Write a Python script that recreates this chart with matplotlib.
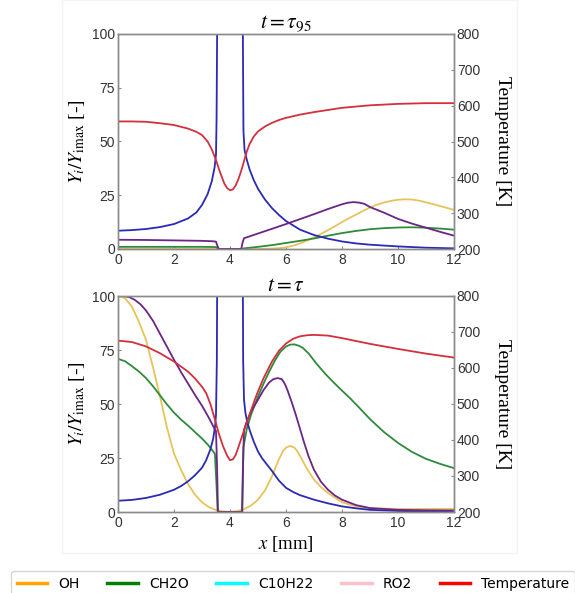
import matplotlib
matplotlib.use("Agg")
import matplotlib.pyplot as plt
from matplotlib.lines import Line2D
from matplotlib.patches import Rectangle

plt.rcParams['font.family'] = ['Liberation Sans', 'DejaVu Sans']
plt.rcParams['mathtext.fontset'] = 'stix'

# ---------------- data ----------------
species = ["OH", "CH2O", "C10H22", "RO2", "Temperature"]
legend_colors = ["orange", "green", "cyan", "pink", "red"]
line_colors = ["#E8C35A", "#2F8A3A", "#2A2AB5", "#6A2585", "#D2303C"]

x_ticks = [0, 2, 4, 6, 8, 10, 12]
y_ticks = [0, 25, 50, 75, 100]
t_ticks = [200, 300, 400, 500, 600, 700, 800]

# ---- panel 1 : t = tau_95 ----
p1_oh_x = [0, 3.5, 4.5, 5, 5.5, 5.75, 6, 6.25, 6.5, 6.75, 7, 7.25, 7.5, 7.75, 8, 8.25, 8.5, 8.75, 9, 9.25, 9.5, 9.75, 10, 10.25, 10.5, 10.75, 11, 11.5, 12]
p1_oh_y = [0.0, 0.0, 0.0, 0.0, 0.2, 0.4, 0.8, 1.5, 2.6, 3.9, 5.4, 7.0, 8.8, 10.6, 12.5, 14.3, 16.0, 17.7, 19.3, 20.6, 21.6, 22.4, 22.9, 23.1, 23.0, 22.5, 21.7, 20.0, 18.2]

p1_ch2o_x = [0, 1, 2, 3, 3.5, 3.55, 3.6, 4.4, 4.5, 5, 5.5, 6, 6.5, 7, 7.5, 8, 8.5, 9, 9.5, 10, 10.5, 11, 11.5, 12]
p1_ch2o_y = [1.0, 1.0, 1.0, 1.0, 0.9, 0.4, 0.0, 0.0, 0.3, 1.0, 1.8, 2.8, 3.8, 4.9, 6.2, 7.4, 8.4, 9.2, 9.7, 10.0, 10.1, 9.9, 9.5, 9.0]

p1_c10_x = [0, 0.5, 1, 1.5, 2, 2.5, 2.8, 3, 3.2, 3.35, 3.45, 3.5, 3.52, 3.55, 4.0, 4.45, 4.48, 4.52, 4.6, 4.7, 4.85, 5, 5.25, 5.5, 5.75, 6, 6.5, 7, 7.5, 8, 8.5, 9, 10, 11, 12]
p1_c10_y = [8.5, 8.8, 9.3, 10.2, 11.6, 14.2, 17.0, 20.5, 25.5, 31.5, 38.0, 44.0, 60.0, 120.0, 300.0, 120.0, 55.0, 46.0, 41.5, 37.0, 32.0, 28.0, 23.0, 19.0, 15.8, 13.0, 9.0, 6.5, 4.8, 3.5, 2.6, 2.0, 1.2, 0.6, 0.3]

p1_ro2_x = [0, 1, 2, 3, 3.4, 3.5, 3.55, 3.6, 4.4, 4.45, 4.5, 5, 5.5, 6, 6.5, 7, 7.5, 8, 8.2, 8.4, 8.6, 8.8, 9, 9.5, 10, 10.5, 11, 11.5, 12]
p1_ro2_y = [4.3, 4.2, 4.0, 3.8, 3.6, 3.4, 1.5, 0.0, 0.0, 3.0, 5.0, 7.2, 9.4, 11.6, 13.9, 16.2, 18.6, 20.8, 21.5, 21.8, 21.6, 21.0, 19.5, 16.9, 14.0, 11.8, 9.9, 8.0, 6.2]

p1_t_x = [0, 0.5, 1, 1.5, 2, 2.5, 2.8, 3, 3.2, 3.35, 3.5, 3.65, 3.8, 3.9, 4, 4.1, 4.2, 4.3, 4.4, 4.5, 4.6, 4.7, 4.85, 5, 5.25, 5.5, 5.75, 6, 6.5, 7, 7.5, 8, 9, 10, 11, 12]
p1_t_y = [556, 556, 555, 551, 546, 536, 527, 518, 500, 478, 448, 413, 382, 370, 364, 366, 377, 395, 418, 445, 472, 493, 514, 528, 542, 552, 560, 566, 575, 582, 588, 594, 601, 605, 607, 607]

# ---- panel 2 : t = tau ----
p2_oh_x = [0, 0.25, 0.5, 0.75, 1, 1.25, 1.5, 1.75, 2, 2.25, 2.5, 2.75, 3, 3.25, 3.5, 3.75, 4, 4.25, 4.5, 4.75, 5, 5.25, 5.5, 5.75, 5.9, 6.0, 6.15, 6.3, 6.4, 6.5, 6.75, 7, 7.25, 7.5, 8, 8.5, 9, 10, 11, 12]
p2_oh_y = [100, 99, 95, 88, 79.7, 67, 53.5, 39, 27, 19.5, 13, 8, 4.5, 2.2, 0.9, 0.3, 0.1, 0.4, 1.3, 3.0, 5.7, 10.0, 16.5, 24.5, 28.3, 29.8, 30.6, 29.8, 28.2, 26.0, 20.0, 15.0, 11.5, 8.8, 4.5, 2.6, 1.8, 1.4, 1.4, 1.4]

p2_ch2o_x = [0, 0.25, 0.5, 0.75, 1, 1.25, 1.5, 1.75, 2, 2.25, 2.5, 2.75, 3, 3.2, 3.46, 3.52, 3.56, 4.44, 4.48, 4.6, 4.75, 5, 5.2, 5.4, 5.6, 5.8, 6, 6.15, 6.3, 6.45, 6.6, 6.8, 7.1, 7.4, 7.7, 8, 8.3, 8.6, 9, 9.5, 10, 10.5, 11, 11.5, 12]
p2_ch2o_y = [70.9, 69.8, 67.5, 65.0, 62.0, 58.2, 54.0, 49.8, 46.0, 42.8, 40.0, 37.0, 34.0, 31.3, 27.0, 12.0, 0.0, 0.0, 30.0, 38.5, 45.0, 53.5, 59.5, 65.0, 70.0, 74.2, 76.6, 77.5, 77.6, 77.0, 76.0, 73.5, 68.5, 64.0, 60.0, 56.2, 52.5, 48.5, 43.0, 37.0, 32.0, 27.8, 24.6, 22.3, 20.3]

p2_c10_x = [0, 0.5, 1, 1.5, 2, 2.25, 2.5, 2.75, 3, 3.15, 3.3, 3.4, 3.47, 3.5, 3.53, 3.56, 4.0, 4.44, 4.47, 4.5, 4.55, 4.62, 4.7, 4.85, 5, 5.15, 5.3, 5.5, 5.75, 6, 6.25, 6.5, 7, 7.5, 8, 8.5, 9, 10, 11, 12]
p2_c10_y = [5.2, 5.6, 6.5, 8.0, 10.3, 12.0, 14.2, 17.0, 20.5, 24.0, 29.0, 34.0, 40.0, 45.0, 70.0, 160.0, 300.0, 160.0, 70.0, 52.0, 46.0, 41.5, 38.0, 32.5, 28.0, 24.8, 22.3, 19.0, 14.5, 11.2, 9.3, 7.8, 5.7, 4.0, 2.6, 1.7, 1.0, 0.5, 0.2, 0.1]

p2_ro2_x = [0, 0.2, 0.4, 0.6, 0.8, 1, 1.25, 1.5, 1.75, 2, 2.25, 2.5, 2.75, 3, 3.25, 3.45, 3.5, 3.54, 3.57, 4.43, 4.46, 4.5, 4.6, 4.75, 5, 5.2, 5.4, 5.55, 5.7, 5.85, 5.95, 6.05, 6.2, 6.35, 6.5, 6.65, 6.8, 7, 7.25, 7.5, 7.75, 8, 8.5, 9, 10, 11, 12]
p2_ro2_y = [100, 100, 99.5, 98.2, 96.2, 93.3, 88.5, 82.5, 76.5, 70.5, 64.8, 59.5, 54.2, 49.2, 43.5, 38.5, 37.5, 20, 0, 0, 20, 38, 42, 46.5, 52, 56.5, 60, 61.5, 62, 61.5, 59.5, 56.5, 51, 45, 38.5, 32, 26, 19.5, 14, 10.3, 7.6, 5.7, 3.2, 1.8, 1.0, 0.8, 0.7]

p2_t_x = [0, 0.5, 1, 1.5, 2, 2.5, 2.75, 3, 3.15, 3.3, 3.45, 3.6, 3.75, 3.9, 4, 4.1, 4.2, 4.3, 4.45, 4.6, 4.75, 4.9, 5, 5.2, 5.5, 5.75, 6, 6.25, 6.5, 6.75, 7, 7.5, 8, 9, 10, 11, 12]
p2_t_y = [676, 672, 660, 641, 618, 590, 571, 548, 530, 500, 460, 418, 383, 356, 344, 346, 358, 380, 415, 448, 482, 515, 535, 572, 618, 648, 668, 681, 688, 691, 692, 690, 683, 667, 653, 640, 629]

titles = [r"$t = \tau_{\mathit{95}}$", r"$t = \tau$"]
ylabel_left = r"$Y_i/Y_{\mathrm{imax}}$ [-]"
ylabel_right = "Temperature [K]"
xlabel = r"$x$ [mm]"

panels = [
    [(p1_oh_x, p1_oh_y), (p1_ch2o_x, p1_ch2o_y), (p1_c10_x, p1_c10_y), (p1_ro2_x, p1_ro2_y), (p1_t_x, p1_t_y)],
    [(p2_oh_x, p2_oh_y), (p2_ch2o_x, p2_ch2o_y), (p2_c10_x, p2_c10_y), (p2_ro2_x, p2_ro2_y), (p2_t_x, p2_t_y)],
]

# ---------------- figure ----------------
W, H = 575, 593
fig = plt.figure(figsize=(W / 100, H / 100), dpi=100)

# faint frame of the embedded figure
fig.patches.append(Rectangle((62 / W, 1 - 553 / H), (517 - 62) / W, 553 / H,
                             transform=fig.transFigure, fill=False,
                             edgecolor="#f4f4f4", lw=1.0))

ax_rects = [(118, 34, 454, 249), (118, 296, 454, 512)]
spine_c = "#8a8a8a"
tick_c = "#333333"
serif = ["Liberation Serif", "DejaVu Serif"]

for i, (l, t, r, b) in enumerate(ax_rects):
    ax = fig.add_axes([l / W, 1 - b / H, (r - l) / W, (b - t) / H])
    axt = ax.twinx()
    data = panels[i]
    for k in range(4):
        xs, ys = data[k]
        ax.plot(xs, ys, color=line_colors[k], lw=1.3, solid_joinstyle="round")
    xs, ys = data[4]
    axt.plot(xs, ys, color=line_colors[4], lw=1.3, solid_joinstyle="round")

    ax.set_xlim(0, 12)
    ax.set_ylim(0, 100)
    axt.set_ylim(200, 800)
    ax.set_xticks(x_ticks)
    ax.set_yticks(y_ticks)
    axt.set_yticks(t_ticks)
    for a in (ax, axt):
        for s in a.spines.values():
            s.set_color(spine_c)
            s.set_linewidth(1.0)
        a.tick_params(direction="in", length=2, width=0.8, color=spine_c,
                      labelsize=10, labelcolor=tick_c, pad=2)
    ax.tick_params(axis="x", pad=3)

    ax.set_title(titles[i], fontsize=15.5, pad=(4 if i == 0 else 0.5), family=serif)

    yc = 1 - (t + b) / 2 / H
    fig.text(77 / W, yc, ylabel_left, rotation=90, ha="center", va="center",
             fontsize=14, family=serif)
    fig.text(503 / W, yc, ylabel_right, rotation=270, ha="center", va="center",
             fontsize=14, family=serif)

fig.text(286 / W, 1 - 544 / H, xlabel, ha="center", va="center", fontsize=13.5, family=serif)

handles = [Line2D([], [], color=c, lw=2.5) for c in legend_colors]
fig.legend(handles, species, ncol=5, loc="upper left",
           bbox_to_anchor=(11 / W, 1 - 571 / H),
           prop={"family": "DejaVu Sans", "size": 10},
           handlelength=2.2, handletextpad=0.8, columnspacing=2.0,
           borderaxespad=0, frameon=True, edgecolor="#cccccc", fancybox=True)

fig.savefig("out.png", dpi=100)
